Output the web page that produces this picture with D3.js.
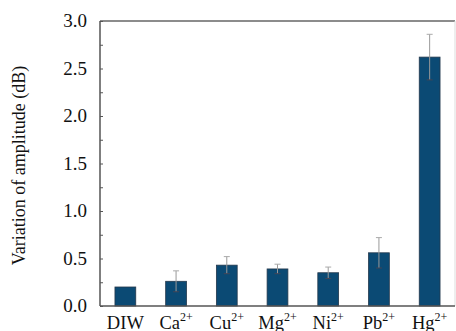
<!DOCTYPE html>
<html>
<head>
<meta charset="utf-8">
<script src="https://cdn.jsdelivr.net/npm/d3@7"></script>
<style>
  body { margin: 0; background: #fff; }
</style>
</head>
<body>
<script>
// ions tested and the measured amplitude change
var ions = ["DIW", "Ca", "Cu", "Mg", "Ni", "Pb", "Hg"];
var charges = ["", "2+", "2+", "2+", "2+", "2+", "2+"];
var amplitude = [0.20, 0.26, 0.43, 0.39, 0.35, 0.56, 2.62];
var errors = [0, 0.11, 0.09, 0.05, 0.06, 0.16, 0.24];
var yTicks = [0, 0.5, 1.0, 1.5, 2.0, 2.5, 3.0];

var width = 456, height = 331;
var m = { left: 100, right: 455, top: 21, bottom: 306 };
var serif = "'Liberation Serif', 'Times New Roman', Times, serif";

var svg = d3.select("body").append("svg")
  .attr("width", width)
  .attr("height", height)
  .attr("font-family", serif);

var x = d3.scaleBand().domain(ions).range([m.left, m.right]).paddingInner(0.59).paddingOuter(0.295);
var y = d3.scaleLinear().domain([0, 3]).range([m.bottom, m.top]);

// frame: top and right are lighter
svg.append("line").attr("x1", m.left).attr("x2", m.right).attr("y1", m.top).attr("y2", m.top)
  .attr("stroke", "#666").attr("stroke-width", 1.5);
svg.append("line").attr("x1", m.right).attr("x2", m.right).attr("y1", m.top).attr("y2", m.bottom)
  .attr("stroke", "#ddd").attr("stroke-width", 1);

// bars
svg.selectAll("rect.bar").data(ions).enter().append("rect")
  .attr("class", "bar")
  .attr("x", function(d) { return x(d); })
  .attr("width", x.bandwidth())
  .attr("y", function(d, i) { return y(amplitude[i]); })
  .attr("height", function(d, i) { return m.bottom - y(amplitude[i]); })
  .attr("fill", "#0b4a74")
  .attr("stroke", "#24384c")
  .attr("stroke-width", 0.8);

// error bars
var cx = function(d) { return x(d) + x.bandwidth() / 2; };
var eb = svg.selectAll("g.err").data(ions).enter().append("g")
  .attr("class", "err")
  .filter(function(d, i) { return errors[i] > 0; });
eb.append("line")
  .attr("x1", cx).attr("x2", cx)
  .attr("y1", function(d) { var i = ions.indexOf(d); return y(amplitude[i] - errors[i]); })
  .attr("y2", function(d) { var i = ions.indexOf(d); return y(amplitude[i] + errors[i]); })
  .attr("stroke", "#999").attr("stroke-width", 1);
[1, -1].forEach(function(s) {
  eb.append("line")
    .attr("x1", function(d) { return cx(d) - 3; })
    .attr("x2", function(d) { return cx(d) + 3; })
    .attr("y1", function(d) { var i = ions.indexOf(d); return y(amplitude[i] + s * errors[i]); })
    .attr("y2", function(d) { var i = ions.indexOf(d); return y(amplitude[i] + s * errors[i]); })
    .attr("stroke", s > 0 ? "#aaa" : "#445").attr("stroke-width", 1);
});

// y axis with inward ticks
var yAxis = svg.append("g").attr("transform", "translate(" + m.left + ",0)")
  .call(d3.axisRight(y).tickValues(d3.range(0, 3.01, 0.25)).tickSize(3).tickFormat(""));
yAxis.selectAll("line").attr("stroke", "#555");
yAxis.select(".domain").remove();
svg.append("line").attr("x1", m.left).attr("x2", m.left).attr("y1", m.top).attr("y2", m.bottom)
  .attr("stroke", "#555").attr("stroke-width", 1.5);

svg.selectAll("text.ytick").data(yTicks).enter().append("text")
  .attr("class", "ytick")
  .attr("x", 87)
  .attr("y", function(d) { return y(d); })
  .attr("dy", "0.33em")
  .attr("text-anchor", "end")
  .attr("font-family", serif)
  .attr("font-size", 19)
  .attr("fill", "#111")
  .text(function(d) { return d.toFixed(1); });

// x axis
svg.append("line").attr("x1", m.left).attr("x2", m.right).attr("y1", m.bottom).attr("y2", m.bottom)
  .attr("stroke", "#555").attr("stroke-width", 1.5);

var xl = svg.selectAll("text.xtick").data(ions).enter().append("text")
  .attr("class", "xtick")
  .attr("x", function(d) { return x(d) + x.bandwidth() / 2; })
  .attr("y", 328.5)
  .attr("text-anchor", "middle")
  .attr("font-family", serif)
  .attr("font-size", 18.5)
  .attr("fill", "#111");
xl.append("tspan").text(function(d) { return d; });
xl.append("tspan")
  .attr("font-size", 12)
  .attr("dy", -8)
  .text(function(d, i) { return charges[i]; });

// y title
svg.append("text")
  .attr("transform", "translate(25," + ((m.top + m.bottom) / 2 + 2) + ") rotate(-90)")
  .attr("text-anchor", "middle")
  .attr("font-family", serif)
  .attr("font-size", 18)
  .attr("fill", "#111")
  .text("Variation of amplitude (dB)");
</script>
</body>
</html>
